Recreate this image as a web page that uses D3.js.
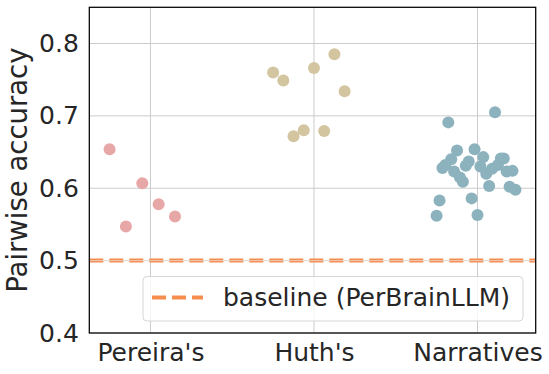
<!DOCTYPE html>
<html>
<head>
<meta charset="utf-8">
<script src="https://cdn.jsdelivr.net/npm/d3@7"></script>
<style>
body { margin: 0; background: #fff; }
text { font-family: "DejaVu Sans", sans-serif; fill: #262626; }
</style>
</head>
<body>
<svg class="chartsvg" width="549" height="374"></svg>
<script>
// data, in plotting order (left to right inside each strip)
var categories = ["Pereira's", "Huth's", "Narratives"];
var pereira = [0.654, 0.547, 0.607, 0.578, 0.561];
var huth = [0.760, 0.749, 0.672, 0.680, 0.766, 0.679, 0.785, 0.734];
var narratives = [0.562, 0.583, 0.628, 0.632, 0.691, 0.640, 0.623, 0.652, 0.615, 0.609,
                  0.631, 0.637, 0.586, 0.654, 0.563, 0.630, 0.643, 0.620, 0.603, 0.627,
                  0.705, 0.632, 0.641, 0.641, 0.623, 0.602, 0.624, 0.598];
var baseline = 0.5;
var yTicks = [0.4, 0.5, 0.6, 0.7, 0.8];
var colors = ["#e8a7a7", "#d4c5a1", "#8cb2be"];

var margin = {top: 7.3, right: 13.3, bottom: 41, left: 89.3};
var width = 549 - margin.left - margin.right;
var height = 374 - margin.top - margin.bottom;

var svg = d3.select(".chartsvg");
var g = svg.append("g")
    .attr("transform", "translate(" + margin.left + "," + margin.top + ")");

var x = d3.scaleLinear().domain([-0.374, 2.356]).range([0, width]);
var y = d3.scaleLinear().domain([0.4, 0.85]).range([height, 0]);

function drawgrid()
{
	g.append("g")
	    .selectAll("line")
	    .data(yTicks)
	    .join("line")
	    .attr("x1", 0).attr("x2", width)
	    .attr("y1", function(d) { return y(d); })
	    .attr("y2", function(d) { return y(d); })
	    .attr("stroke", "#cccccc")
	    .attr("stroke-width", 1);

	g.append("g")
	    .selectAll("line")
	    .data(categories)
	    .join("line")
	    .attr("x1", function(d, i) { return x(i); })
	    .attr("x2", function(d, i) { return x(i); })
	    .attr("y1", 0).attr("y2", height)
	    .attr("stroke", "#cccccc")
	    .attr("stroke-width", 1);
}

function drawbaseline()
{
	g.append("line")
	    .attr("x1", 0).attr("x2", width)
	    .attr("y1", y(baseline)).attr("y2", y(baseline))
	    .attr("stroke", "#f58d4f")
	    .attr("stroke-width", 4)
	    .attr("stroke-dasharray", "14,6");
	// grid line shows through the middle of the dashes
	g.append("line")
	    .attr("x1", 0).attr("x2", width)
	    .attr("y1", y(baseline)).attr("y2", y(baseline))
	    .attr("stroke", "#e8ddd6")
	    .attr("stroke-width", 0.8);
}

function drawstrip(values, idx)
{
	var n = values.length;
	g.append("g")
	    .selectAll("circle")
	    .data(values)
	    .join("circle")
	    .attr("cx", function(d, i) { return x(idx - 0.25 + i * 0.5 / n); })
	    .attr("cy", function(d) { return y(d); })
	    .attr("r", 6)
	    .attr("fill", colors[idx]);
}

function drawaxes()
{
	var yaxis = g.append("g")
	    .call(d3.axisLeft(y).tickValues(yTicks).tickSize(0).tickPadding(10.5).tickFormat(d3.format(".1f")));
	yaxis.select(".domain").remove();
	yaxis.selectAll("text")
	    .style("font-size", "25px")
	    .attr("fill", "#262626");

	var xaxis = g.append("g")
	    .attr("transform", "translate(0," + height + ")")
	    .call(d3.axisBottom(x).tickValues([0, 1, 2]).tickSize(0).tickPadding(10)
	        .tickFormat(function(d) { return categories[d]; }));
	xaxis.select(".domain").remove();
	xaxis.selectAll("text")
	    .style("font-size", "25px")
	    .attr("fill", "#262626");

	g.append("rect")
	    .attr("width", width)
	    .attr("height", height)
	    .attr("fill", "none")
	    .attr("stroke", "#000")
	    .attr("stroke-width", 1.25);

	svg.append("text")
	    .attr("transform", "translate(27," + (margin.top + height / 2) + ") rotate(-90)")
	    .style("text-anchor", "middle")
	    .style("font-size", "27.5px")
	    .text("Pairwise accuracy");
}

function addlegend()
{
	var legendgroup = svg.append("g")
	    .attr("class", "legendgroup");

	legendgroup.append("rect")
	    .attr("x", 143).attr("y", 276.5)
	    .attr("width", 380).attr("height", 44.5)
	    .attr("rx", 4)
	    .attr("fill", "#fff")
	    .attr("fill-opacity", 0.8)
	    .attr("stroke", "#d6d6d6")
	    .attr("stroke-width", 1);
	legendgroup.append("line")
	    .attr("x1", 152).attr("x2", 203)
	    .attr("y1", 297.5).attr("y2", 297.5)
	    .attr("stroke", "#f58d4f")
	    .attr("stroke-width", 4)
	    .attr("stroke-dasharray", "14,6");
	legendgroup.append("text")
	    .attr("x", 223)
	    .attr("y", 306)
	    .style("font-size", "25px")
	    .text("baseline (PerBrainLLM)");
}

drawgrid();
drawbaseline();
drawstrip(pereira, 0);
drawstrip(huth, 1);
drawstrip(narratives, 2);
drawaxes();
addlegend();
</script>
</body>
</html>
